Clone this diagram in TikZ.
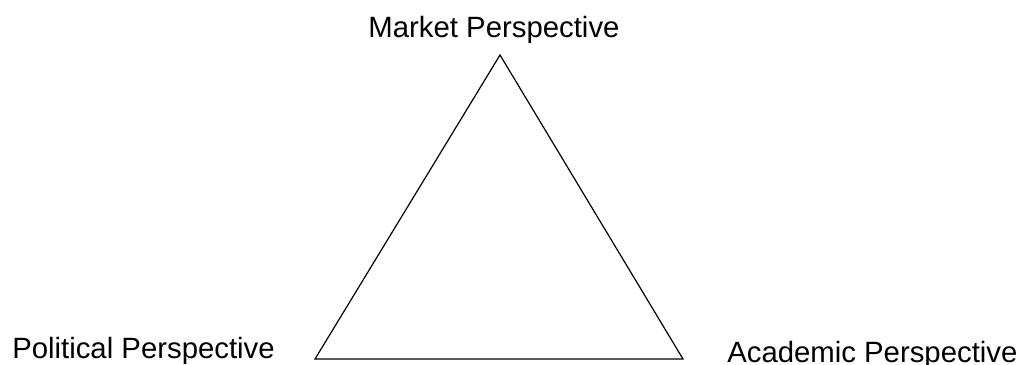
\documentclass[tikz,border=0pt]{standalone}
\usepackage{fontspec}
\setmainfont{Liberation Sans}
\usetikzlibrary{positioning,calc}

\begin{document}
\begin{tikzpicture}[x=0.75pt, y=-0.75pt,
    persp/.style={font=\fontsize{22}{26}\selectfont, inner sep=0pt}]
    % Bounding box (reference size)
    \useasboundingbox (0,0) rectangle (1016,364);
    % Triangle corners
    \coordinate (market) at (500,55);
    \coordinate (political) at (315,359);
    \coordinate (academic) at (683,359);
    \draw[line width=0.9pt, line join=miter] (market) -- (academic) -- (political) -- cycle;
    % Perspective labels
    \node[persp, anchor=base] (marketlbl) at (494,37) {Market Perspective};
    \node[persp, anchor=base west] (politicallbl) at (12,358) {Political Perspective};
    \node[persp, anchor=base west] (academiclbl) at (727,362) {Academic Perspective};
\end{tikzpicture}
\end{document}
